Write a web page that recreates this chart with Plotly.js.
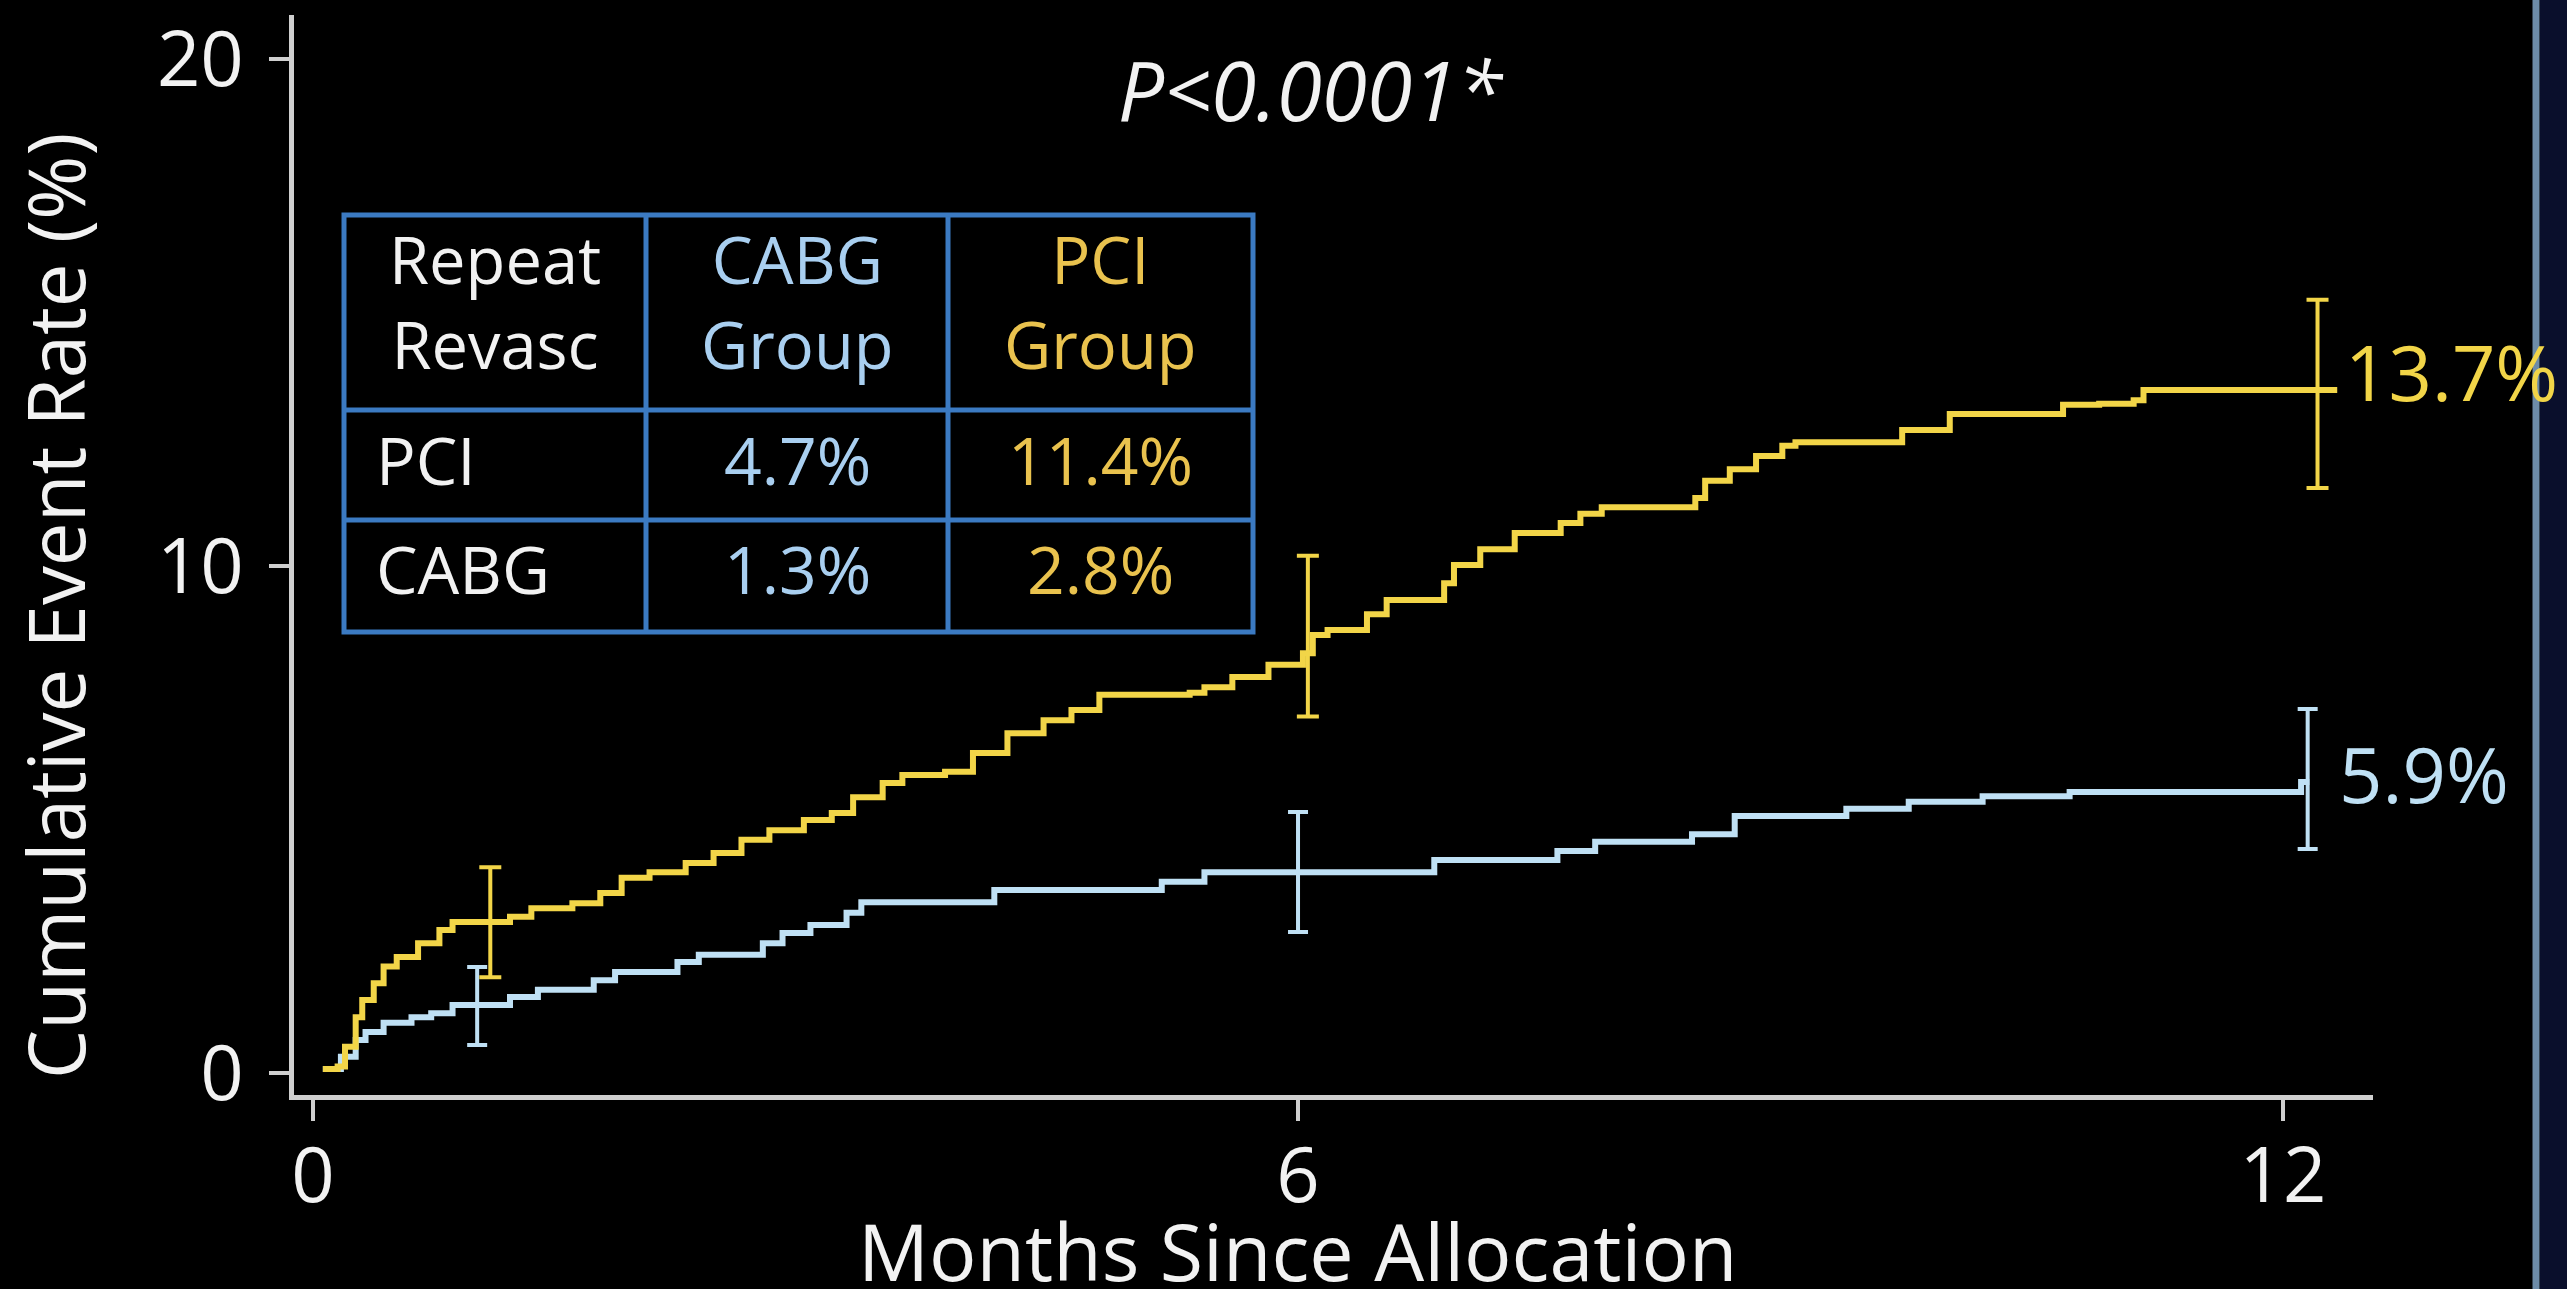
<!DOCTYPE html>
<html>
<head>
<meta charset="utf-8">
<script src="https://cdn.plot.ly/plotly-3.0.1.min.js"></script>
<style>
  html, body { margin: 0; padding: 0; background: #000; }
  #chart { width: 2567px; height: 1289px; }
</style>
</head>
<body>
<div id="chart"></div>
<script>
// ---------------- DATA ----------------
// PCI group (yellow) Kaplan-Meier steps: month of step, cumulative rate (%) after step
const monthsPCI = [0.06, 0.15, 0.195, 0.26, 0.30, 0.37, 0.43, 0.51, 0.64, 0.77, 0.85, 1.20, 1.33, 1.58, 1.75, 1.88, 2.05, 2.27, 2.44, 2.61, 2.78, 2.99, 3.16, 3.29, 3.47, 3.59, 3.85, 4.02, 4.23, 4.45, 4.62, 4.79, 5.34, 5.43, 5.60, 5.82, 6.03, 6.09, 6.18, 6.42, 6.54, 6.89, 6.95, 7.11, 7.32, 7.60, 7.72, 7.85, 8.42, 8.48, 8.63, 8.79, 8.95, 9.03, 9.68, 9.97, 10.66, 10.88, 11.09, 11.15, 12.33];
const ratePCI   = [0.08, 0.13, 0.52, 1.10, 1.44, 1.77, 2.10, 2.29, 2.56, 2.82, 2.98, 3.08, 3.25, 3.35, 3.55, 3.85, 3.96, 4.14, 4.34, 4.60, 4.79, 4.99, 5.13, 5.44, 5.72, 5.88, 5.94, 6.31, 6.70, 6.96, 7.16, 7.46, 7.50, 7.61, 7.81, 8.05, 8.28, 8.64, 8.74, 9.05, 9.33, 9.66, 10.02, 10.33, 10.65, 10.85, 11.03, 11.16, 11.34, 11.68, 11.91, 12.17, 12.37, 12.44, 12.68, 13.00, 13.18, 13.20, 13.27, 13.47, 13.47];

// CABG group (light blue)
const monthsCABG = [0.06, 0.17, 0.26, 0.32, 0.43, 0.60, 0.72, 0.85, 1.20, 1.37, 1.71, 1.84, 2.22, 2.35, 2.74, 2.86, 3.03, 3.25, 3.34, 4.15, 5.17, 5.43, 6.83, 7.58, 7.81, 8.40, 8.66, 9.34, 9.72, 10.17, 10.70, 12.11, 12.16];
const rateCABG   = [0.08, 0.32, 0.65, 0.81, 0.99, 1.10, 1.18, 1.34, 1.50, 1.64, 1.83, 1.99, 2.19, 2.33, 2.56, 2.76, 2.92, 3.16, 3.37, 3.61, 3.77, 3.96, 4.20, 4.38, 4.56, 4.71, 5.07, 5.21, 5.35, 5.46, 5.54, 5.74, 5.74];

// Confidence interval bars
const barMonthsPCI = [1.08, 6.06, 12.21];
const barRatePCI   = [2.98, 8.60, 13.45];
const barHighPCI   = [4.06, 10.20, 15.25];
const barLowPCI    = [1.89, 7.03, 11.54];

const barMonthsCABG = [1.00, 6.00, 12.15];
const barRateCABG   = [1.34, 3.96, 5.60];
const barHighCABG   = [2.09, 5.15, 7.18];
const barLowCABG    = [0.55, 2.78, 4.42];

// End-of-follow-up labels
const endLabels = ['13.7%', '5.9%'];

// Axis ticks
const xTicks = [0, 6, 12];
const yTicks = [0, 10, 20];

// Inset table
const tableHeader = ['Repeat<br>Revasc', 'CABG<br>Group', 'PCI<br>Group'];
const tableRowLabels = ['PCI', 'CABG'];
const tableCABG = ['4.7%', '1.3%'];
const tablePCI  = ['11.4%', '2.8%'];

const pText = 'P&lt;0.0001*';
const xTitle = 'Months Since Allocation';
const yTitle = 'Cumulative Event Rate (%)';

// ---------------- STYLE / LAYOUT ----------------
const W = 2567, H = 1289;
const M = { l: 294, r: 194, t: 15, b: 194 };
const PW = W - M.l - M.r, PH = H - M.t - M.b;
const px2x = p => (p - M.l) / PW;
const py2y = p => (H - M.b - p) / PH;

const YEL = '#f2d548';
const BLU = '#bfe0f4';
const TAB_YEL = '#e9c24e';
const TAB_BLU = '#a9cff0';
const WHITE = '#f2f2f2';
const AXIS = '#cfcfcf';
const GRID = '#3b7ac2';
const FONT = 'Open Sans, Noto Sans, sans-serif';

const traces = [
  { x: monthsCABG, y: rateCABG, type: 'scatter', mode: 'lines', line: { color: BLU, width: 6, shape: 'hv' }, showlegend: false },
  { x: monthsPCI, y: ratePCI, type: 'scatter', mode: 'lines', line: { color: YEL, width: 6, shape: 'hv' }, showlegend: false },
  { x: barMonthsCABG, y: barRateCABG, type: 'scatter', mode: 'markers', marker: { size: 1, color: BLU }, showlegend: false,
    error_y: { type: 'data', symmetric: false,
      array: barHighCABG.map((h, i) => h - barRateCABG[i]),
      arrayminus: barLowCABG.map((l, i) => barRateCABG[i] - l),
      color: BLU, thickness: 4, width: 10 } },
  { x: barMonthsPCI, y: barRatePCI, type: 'scatter', mode: 'markers', marker: { size: 1, color: YEL }, showlegend: false,
    error_y: { type: 'data', symmetric: false,
      array: barHighPCI.map((h, i) => h - barRatePCI[i]),
      arrayminus: barLowPCI.map((l, i) => barRatePCI[i] - l),
      color: YEL, thickness: 4, width: 11 } }
];

// table geometry (pixels)
const tabL = 344, tabR = 1253, tabT = 215, tabB = 632;
const colEdges = [646, 948];
const rowEdges = [410, 520];
const colCenters = [495, 797, 1100];
const headY = 301;
const rowY = [459, 568];
const rowLabelX = 374;

const shapes = [];
shapes.push({ type: 'rect', xref: 'paper', yref: 'paper', x0: px2x(tabL), x1: px2x(tabR), y0: py2y(tabB), y1: py2y(tabT), line: { color: GRID, width: 5 }, fillcolor: 'rgba(0,0,0,0)' });
colEdges.forEach(c => shapes.push({ type: 'line', xref: 'paper', yref: 'paper', x0: px2x(c), x1: px2x(c), y0: py2y(tabB), y1: py2y(tabT), line: { color: GRID, width: 5 } }));
rowEdges.forEach(r => shapes.push({ type: 'line', xref: 'paper', yref: 'paper', x0: px2x(tabL), x1: px2x(tabR), y0: py2y(r), y1: py2y(r), line: { color: GRID, width: 5 } }));
// slide frame on the right edge
shapes.push({ type: 'rect', xref: 'paper', yref: 'paper', x0: px2x(2540), x1: px2x(2570), y0: py2y(1295), y1: py2y(-5), line: { width: 0 }, fillcolor: '#0a0f2c', layer: 'below' });
shapes.push({ type: 'line', xref: 'paper', yref: 'paper', x0: px2x(2536), x1: px2x(2536), y0: py2y(1295), y1: py2y(-5), line: { color: '#6d8ca8', width: 7 } });

const annotations = [];
const ann = (text, xp, yp, color, size, extra) => Object.assign({
  text, xref: 'paper', yref: 'paper', x: px2x(xp), y: py2y(yp), showarrow: false,
  xanchor: 'center', yanchor: 'middle', font: { family: FONT, size, color }
}, extra || {});

annotations.push(ann(yTitle, 55, 606, WHITE, 78, { textangle: -90 }));
annotations.push(ann(xTitle, 1297, 1250, WHITE, 79));

const headColors = [WHITE, TAB_BLU, TAB_YEL];
tableHeader.forEach((t, i) => annotations.push(ann(t, colCenters[i], headY, headColors[i], 65)));
tableRowLabels.forEach((t, i) => annotations.push(ann(t, rowLabelX, rowY[i], WHITE, 66, { xanchor: 'left' })));
tableCABG.forEach((t, i) => annotations.push(ann(t, colCenters[1], rowY[i], TAB_BLU, 66)));
tablePCI.forEach((t, i) => annotations.push(ann(t, colCenters[2], rowY[i], TAB_YEL, 66)));

annotations.push(ann(endLabels[0], 2343, 371, YEL, 76, { xanchor: 'left' }));
annotations.push(ann(endLabels[1], 2337, 774, BLU, 76, { xanchor: 'left' }));

const k = 164.17, s = 50.7;
const x0 = -(313 - M.l) / k, x1 = x0 + PW / k;
const y0 = -(H - M.b - 1073) / s, y1 = y0 + PH / s;

const layout = {
  width: W, height: H,
  margin: M,
  paper_bgcolor: '#000', plot_bgcolor: '#000',
  showlegend: false,
  hovermode: false,
  title: { text: pText, font: { family: FONT, size: 82, color: WHITE, style: 'italic' },
           xref: 'container', yref: 'container', x: 1310 / W, y: 1 - 92 / H, xanchor: 'center', yanchor: 'middle' },
  xaxis: {
    range: [x0, x1], tickvals: xTicks, ticktext: xTicks.map(String),
    showgrid: false, zeroline: false, showline: true, linecolor: AXIS, linewidth: 5,
    ticks: 'outside', ticklen: 21, tickwidth: 4, tickcolor: AXIS, ticklabelstandoff: -10,
    tickfont: { family: FONT, size: 76, color: WHITE }, fixedrange: true
  },
  yaxis: {
    range: [y0, y1], tickvals: yTicks, ticktext: yTicks.map(String),
    showgrid: false, zeroline: false, showline: true, linecolor: AXIS, linewidth: 5,
    ticks: 'outside', ticklen: 20, tickwidth: 4, tickcolor: AXIS, ticklabelstandoff: 10,
    tickfont: { family: FONT, size: 76, color: WHITE }, fixedrange: true
  },
  shapes, annotations
};

Plotly.newPlot('chart', traces, layout, { staticPlot: true, displayModeBar: false });
</script>
</body>
</html>
